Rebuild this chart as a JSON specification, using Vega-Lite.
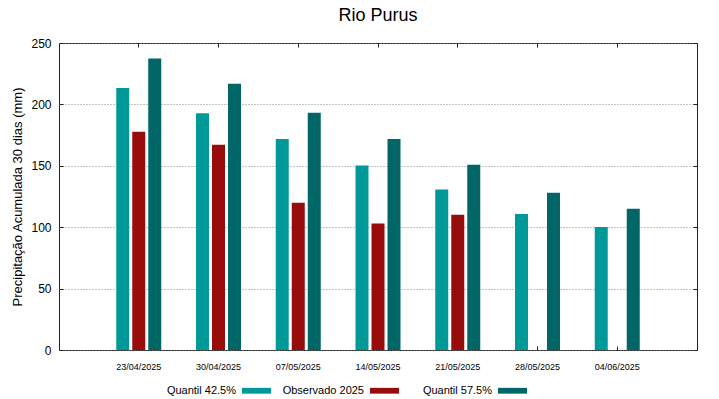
{
  "$schema": "https://vega.github.io/schema/vega-lite/v6.json",
  "width": 638,
  "height": 307,
  "autosize": {"type": "none"},
  "padding": {"left": 59, "top": 43, "right": 22, "bottom": 49},
  "background": "white",
  "title": {"text": "Rio Purus", "fontSize": 18, "font": "Liberation Sans", "fontWeight": "normal", "color": "#000", "anchor": "middle", "offset": 20, "baseline": "alphabetic", "dy": 22},
  "config": {"font": "Liberation Sans", "view": {"stroke": "#222", "strokeWidth": 1}},
  "data": {"values": [
    {"data": "23/04/2025", "serie": "Quantil 42.5%", "valor": 213.3},
    {"data": "23/04/2025", "serie": "Observado 2025", "valor": 177.8},
    {"data": "23/04/2025", "serie": "Quantil 57.5%", "valor": 237.4},
    {"data": "30/04/2025", "serie": "Quantil 42.5%", "valor": 192.7},
    {"data": "30/04/2025", "serie": "Observado 2025", "valor": 167.2},
    {"data": "30/04/2025", "serie": "Quantil 57.5%", "valor": 216.8},
    {"data": "07/05/2025", "serie": "Quantil 42.5%", "valor": 171.8},
    {"data": "07/05/2025", "serie": "Observado 2025", "valor": 120.0},
    {"data": "07/05/2025", "serie": "Quantil 57.5%", "valor": 193.2},
    {"data": "14/05/2025", "serie": "Quantil 42.5%", "valor": 150.3},
    {"data": "14/05/2025", "serie": "Observado 2025", "valor": 103.1},
    {"data": "14/05/2025", "serie": "Quantil 57.5%", "valor": 171.8},
    {"data": "21/05/2025", "serie": "Quantil 42.5%", "valor": 130.8},
    {"data": "21/05/2025", "serie": "Observado 2025", "valor": 110.2},
    {"data": "21/05/2025", "serie": "Quantil 57.5%", "valor": 150.9},
    {"data": "28/05/2025", "serie": "Quantil 42.5%", "valor": 110.7},
    {"data": "28/05/2025", "serie": "Quantil 57.5%", "valor": 128.1},
    {"data": "04/06/2025", "serie": "Quantil 42.5%", "valor": 100.1},
    {"data": "04/06/2025", "serie": "Quantil 57.5%", "valor": 115.1}
  ]},
  "layer": [
    {
      "mark": {"type": "bar", "width": 13},
      "encoding": {
        "x": {"field": "data", "type": "nominal",
          "sort": ["23/04/2025", "30/04/2025", "07/05/2025", "14/05/2025", "21/05/2025", "28/05/2025", "04/06/2025"],
          "scale": {"paddingInner": 0, "paddingOuter": 0.5},
          "axis": {"orient": "bottom", "title": null, "labelAngle": 0, "labelFontSize": 9, "labelColor": "#000", "labelFont": "Liberation Sans", "tickSize": -4, "tickColor": "#222", "labelPadding": 16, "domain": false, "grid": false}},
        "xOffset": {"field": "serie", "type": "nominal", "sort": ["Quantil 42.5%", "Observado 2025", "Quantil 57.5%"], "scale": {"paddingInner": 0, "paddingOuter": 0.992}},
        "y": {"field": "valor", "type": "quantitative",
          "scale": {"domain": [0, 250], "nice": false},
          "axis": {"orient": "left", "values": [0, 50, 100, 150, 200, 250], "title": "Precipitação Acumulada 30 dias (mm)", "titleFontSize": 13, "titleFontWeight": "normal", "titleColor": "#000", "titleFont": "Liberation Sans", "titlePadding": 6, "labelFontSize": 12, "labelColor": "#000", "labelFont": "Liberation Sans", "tickSize": -4, "tickColor": "#222", "labelPadding": 12, "domain": false, "grid": true, "gridColor": "#888", "gridDash": [1, 2], "gridWidth": 1}},
        "color": {"field": "serie", "type": "nominal",
          "scale": {"domain": ["Quantil 42.5%", "Observado 2025", "Quantil 57.5%"], "range": ["#009999", "#990c0c", "#006666"]},
          "legend": {"orient": "none", "legendX": 183, "legendY": 333, "direction": "horizontal", "title": null, "labelFontSize": 11, "labelColor": "#000", "labelFont": "Liberation Sans", "symbolType": "M-1,-0.2H1V0.2H-1Z", "symbolSize": 841, "symbolStrokeWidth": 0, "symbolOpacity": 1, "labelAlign": "right", "labelOffset": -35, "columnPadding": 11, "gridAlign": "all", "padding": 0}}
      }
    },
    {
      "mark": {"type": "bar", "width": 13, "opacity": 0},
      "encoding": {
        "x": {"field": "data", "type": "nominal",
          "sort": ["23/04/2025", "30/04/2025", "07/05/2025", "14/05/2025", "21/05/2025", "28/05/2025", "04/06/2025"],
          "axis": {"orient": "top", "title": null, "labels": false, "tickSize": -4, "tickColor": "#222", "domain": false, "grid": false}},
        "xOffset": {"field": "serie", "type": "nominal", "sort": ["Quantil 42.5%", "Observado 2025", "Quantil 57.5%"]},
        "y": {"field": "valor", "type": "quantitative",
          "axis": {"orient": "right", "values": [0, 50, 100, 150, 200, 250], "title": null, "labels": false, "tickSize": -4, "tickColor": "#222", "domain": false, "grid": false}},
        "color": {"field": "serie", "type": "nominal", "legend": null}
      }
    }
  ],
  "resolve": {"axis": {"x": "independent", "y": "independent"}}
}
